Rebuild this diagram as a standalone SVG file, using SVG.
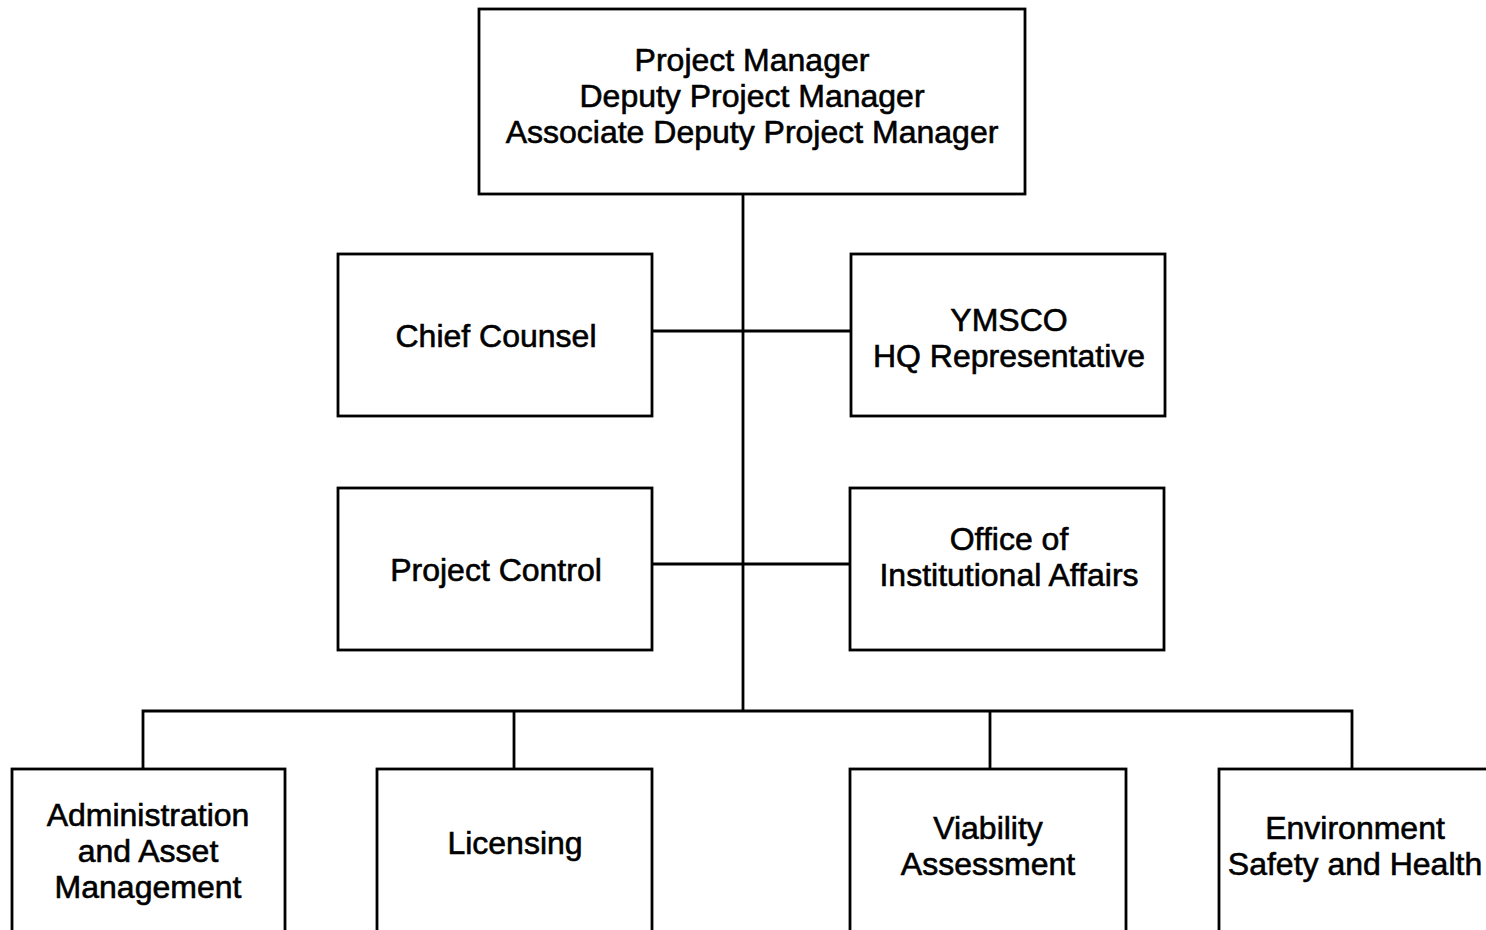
<svg xmlns="http://www.w3.org/2000/svg" width="1486" height="930" viewBox="0 0 1486 930">
<style>
.box{fill:#fff;stroke:#000;stroke-width:2.8}
.ln{stroke:#000;stroke-width:2.8;fill:none}
text{font-family:"Liberation Sans",Arial,sans-serif;font-size:32px;fill:#000;stroke:#000;stroke-width:0.6;text-anchor:middle}
</style>
<rect width="1486" height="930" fill="#fff"/>
<g id="connectors">
<path class="ln" d="M743,194 V711"/>
<path class="ln" d="M652,331 H851"/>
<path class="ln" d="M652,564 H850"/>
<path class="ln" d="M143,769 V711 H1352 V769"/>
<path class="ln" d="M514,711 V769"/>
<path class="ln" d="M990,711 V769"/>
</g>
<g id="pm">
<rect class="box" x="479" y="9" width="546" height="185"/>
<text x="752" y="71">Project Manager</text>
<text x="752" y="107">Deputy Project Manager</text>
<text x="752" y="143">Associate Deputy Project Manager</text>
</g>
<g id="chief">
<rect class="box" x="338" y="254" width="314" height="162"/>
<text x="496" y="347">Chief Counsel</text>
</g>
<g id="ymsco">
<rect class="box" x="851" y="254" width="314" height="162"/>
<text x="1009" y="331">YMSCO</text>
<text x="1009" y="367">HQ Representative</text>
</g>
<g id="control">
<rect class="box" x="338" y="488" width="314" height="162"/>
<text x="496" y="581">Project Control</text>
</g>
<g id="oia">
<rect class="box" x="850" y="488" width="314" height="162"/>
<text x="1009" y="550">Office of</text>
<text x="1009" y="586">Institutional Affairs</text>
</g>
<g id="admin">
<rect class="box" x="12" y="769" width="273" height="180"/>
<text x="148" y="826">Administration</text>
<text x="148" y="862">and Asset</text>
<text x="148" y="898">Management</text>
</g>
<g id="licensing">
<rect class="box" x="377" y="769" width="275" height="180"/>
<text x="515" y="854">Licensing</text>
</g>
<g id="viability">
<rect class="box" x="850" y="769" width="276" height="180"/>
<text x="988" y="839">Viability</text>
<text x="988" y="875">Assessment</text>
</g>
<g id="esh">
<rect class="box" x="1219" y="769" width="290" height="180"/>
<text x="1355" y="839">Environment</text>
<text x="1355" y="875">Safety and Health</text>
</g>
</svg>
